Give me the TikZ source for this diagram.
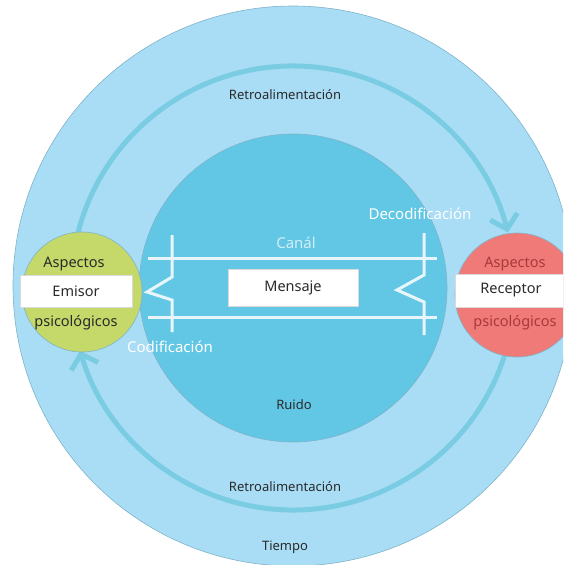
\documentclass[tikz,border=0pt]{standalone}
\usepackage{fontspec}
\setmainfont{Noto Sans}
\usetikzlibrary{arrows.meta}
\definecolor{cielo}{HTML}{A8DDF5}
\definecolor{lazoc}{HTML}{7ACCE2}
\definecolor{mar}{HTML}{62C7E4}
\definecolor{verde}{HTML}{C5D96A}
\definecolor{rojo}{HTML}{F07A78}
\definecolor{borde}{HTML}{7FB3C8}
\definecolor{tinta}{HTML}{2A2A2A}
\definecolor{tintaroja}{HTML}{A83A3A}
\definecolor{linea}{HTML}{E8F6FB}
\definecolor{canaltxt}{HTML}{D2EEF7}

\begin{document}
\begin{tikzpicture}[x=1pt,y=1pt,
    disco/.style={circle, inner sep=0pt, outer sep=0pt, draw=borde, line width=0.6pt},
    caja/.style={rectangle, fill=white, draw=black!15, line width=0.4pt, inner sep=0pt,
        font=\fontsize{14.5}{16}\selectfont, text=tinta},
    rotulo/.style={font=\fontsize{13}{15}\selectfont, text=tinta, inner sep=0pt},
    grande/.style={rotulo, font=\fontsize{14.5}{16}\selectfont},
    claro/.style={rotulo, font=\fontsize{15}{17}\selectfont, text=white},
    lazo/.style={draw=lazoc, line width=5pt, -{Straight Barb[length=13pt,width=28pt]}},
    canal/.style={draw=linea, line width=3pt}]
    \useasboundingbox (0,0) rectangle (563,-565);
    \clip (0,0) rectangle (563,-565);
    % circles
    \node [disco, fill=cielo, minimum size=560] (tiempoc) at (293,-286) {};
    \node [circle, inner sep=0pt, outer sep=0pt, minimum size=444] (bucle) at (293,-288) {};
    \draw [lazo] (bucle.170) arc (170:14.5:222);
    \draw [lazo] (bucle.-10) arc (-10:-163.6:222);
    \node [disco, fill=mar, minimum size=308] (ruidoc) at (293,-288) {};
    \node [disco, fill=verde, minimum size=120] (emisorc) at (82,-292) {};
    \node [disco, fill=rojo, minimum size=124] (receptorc) at (517,-295) {};
    % canal
    \draw [canal] (148,-258) -- (437,-258);
    \draw [canal] (148,-317) -- (437,-317);
    \draw [canal] (172,-235) -- (172,-277) -- (147,-292) -- (172,-300) -- (172,-332);
    \draw [canal] (424,-233) -- (424,-275) -- (397,-290) -- (424,-302) -- (424,-335);
    % boxes
    \node [caja, minimum width=112, minimum height=32] (emisor) at (76,-291) {Emisor};
    \node [caja, minimum width=130, minimum height=37] (mensaje) at (293,-287.5) {Mensaje};
    \node [caja, minimum width=112, minimum height=33] (receptor) at (511,-290.5) {Receptor};
    % labels
    \node [grande] (asp1) at (74,-264) {Aspectos};
    \node [grande] (psi1) at (76,-323) {psicológicos};
    \node [grande, text=tintaroja] (asp2) at (515,-264) {Aspectos};
    \node [grande, text=tintaroja] (psi2) at (515,-323) {psicológicos};
    \node [claro, text=canaltxt] (canal) at (296,-243) {Canál};
    \node [claro] (deco) at (420,-214) {Decodificación};
    \node [claro] (codi) at (170,-347) {Codificación};
    \node [rotulo] (retro1) at (285,-95) {Retroalimentación};
    \node [rotulo] (ruido) at (294,-405) {Ruido};
    \node [rotulo] (retro2) at (285,-487) {Retroalimentación};
    \node [rotulo] (tiempo) at (285,-547) {Tiempo};
\end{tikzpicture}
\end{document}
